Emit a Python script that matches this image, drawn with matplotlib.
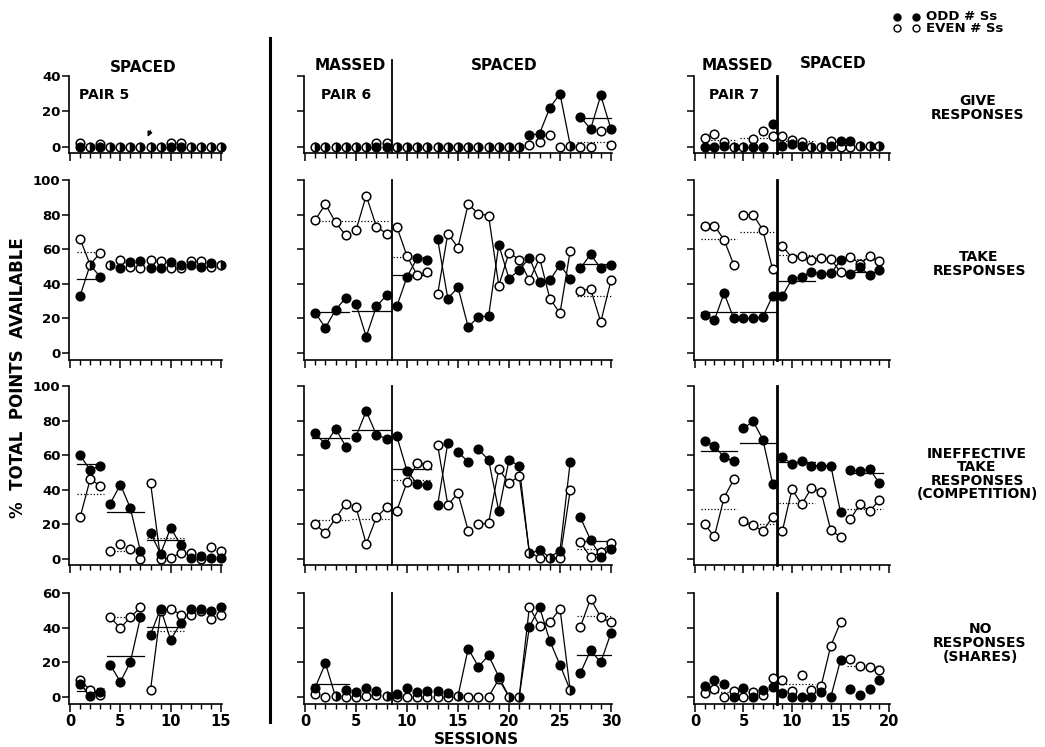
import numpy as np
import matplotlib.pyplot as plt
from matplotlib.lines import Line2D

plt.rcParams['font.family'] = ['DejaVu Sans']
plt.rcParams['font.weight'] = 'bold'

W, H = 1045, 747

# sesiones por pareja
sess_p5 = np.arange(1, 16)
sess_p6 = np.arange(1, 31)
sess_p7 = np.arange(1, 20)

# ---- PAIR 5 (todo espaciado) ----
give_p5_odd = [0, 0, 0, 0, 0, 0, 0, 0, 0, 0, 0, 0, 0, 0, 0]
give_p5_even = [2, 0, 1.5, 0, 0, 0, 0, 0, 0, 2, 2, 0, 0, 0, 0]
take_p5_odd = [33, 51, 44, 50.7, 49, 52.5, 53, 49, 49, 52.6, 51, 50.7, 50, 52, 50.7]
take_p5_even = [66, 51, 58, 50.7, 54, 50, 49, 54, 53, 49, 49, 53, 53, 49.5, 50.7]
ineff_p5_odd = [60, 51.4, 54, 32, 43, 29.4, 4.4, 15, 3, 18, 8, 0.6, 1.5, 0.6, 0.6]
ineff_p5_even = [24, 46, 42.4, 4.4, 8.6, 5.8, 0, 44, 0, 0.6, 3.5, 3.5, 0, 6.7, 4.4]
no_p5_odd = [7.5, 0.8, 2.7, 18.7, 8.7, 20.2, 46, 36, 51, 33, 42.7, 50.8, 51, 49.8, 51.7]
no_p5_even = [9.6, 4.2, 1.3, 46, 39.8, 46, 51.7, 4.2, 49.4, 51, 47.5, 47.5, 49.4, 45.2, 47.5]

# ---- PAIR 6 ----
give_p6_odd = [0, 0, 0, 0, 0, 0, 0, 0, 0, 0, 0, 0, 0, 0, 0, 0, 0, 0, 0, 0, 0,
               6.5, 7.5, 22, 30, 1, 17, 10, 29, 10]
give_p6_even = [0, 0, 0, 0, 0, 0, 2, 2, 0, 0, 0, 0, 0, 0, 0, 0, 0, 0, 0, 0, 0,
                1, 2.5, 6.6, 0, 0, 0, 0, 8.8, 1]
take_p6_odd = [23.3, 14.6, 25, 32, 28.5, 9.5, 27, 33.4, 27, 44, 55, 54,
               66, 31.5, 38, 15, 21, 21.4, 62.5, 43, 48, 55, 41, 42, 51, 43,
               49, 57, 49, 51]
take_p6_even = [77, 86, 75.5, 68, 71, 91, 73, 69, 73, 56, 45, 47,
                34, 69, 61, 86, 80.6, 79.4, 39, 58, 54, 42, 55, 31.5, 23, 59,
                36, 37, 18, 42]
ineff_p6_odd = [72.8, 66.2, 75.3, 65, 70.8, 85.5, 71.8, 69.5, 71, 51, 43.4, 42.5,
                31, 67, 62, 56, 63.3, 57.3, 27.6, 57.3, 53.7, 3, 5.2, 1, 4.8, 56,
                24, 11, 1.4, 5.8]
ineff_p6_even = [20, 15, 23.5, 32, 30, 8.7, 24, 30, 28, 44.4, 55.4, 54.6,
                 66, 31.3, 38, 16.4, 20, 20.8, 52, 43.8, 47.9, 3.9, 0.6, 0.6, 0.4, 39.6,
                 9.7, 1, 3.9, 9]
no_p6_odd = [5.5, 19.5, 0, 4, 3, 5.5, 3.5, 0.6, 2, 5, 3, 3.5, 3.5, 2.5, 0.6,
             28, 17.5, 24, 11.7, 0.2, 0.2, 40.5, 51.8, 32.4, 18.5, 4,
             13.8, 27, 20, 37]
no_p6_even = [1.6, 0.2, 1, 0.2, 0.2, 0.6, 1, 0.2, 0.2, 0.2, 0.2, 0.2, 0.2, 0.2, 0.2,
              0.2, 0.2, 0.2, 10.3, 0.2, 0.2, 52, 41, 43, 51, 4,
              40.5, 56.7, 46, 43]

# ---- PAIR 7 ----
give_p7_odd = [0, 0, 0.5, 0, 0, 0, 0, 13, 0.6, 1.5, 0.5, 0, 0, 0.5, 3, 3, 0.5, 0.5, 0.5]
give_p7_even = [5, 7.4, 2.5, 0, 0, 4.5, 9, 6, 6, 4, 2.7, 0, 0, 3, 0, 0, 0.5, 0.5, 0.5]
take_p7_odd = [22, 19, 34.6, 20, 20, 20, 21, 33, 33, 42.7, 44, 47,
               45.6, 46, 53.5, 45.6, 49.6, 45, 48]
take_p7_even = [73.7, 73.7, 65.4, 51, 80, 80, 71, 48.5, 62, 55, 56, 54,
                55, 54.4, 46.7, 55.8, 51.5, 56, 53]
ineff_p7_odd = [68, 65.5, 58.7, 56.4, 75.6, 79.5, 69, 43.6, 59, 54.8, 56.4, 53.9,
                53.9, 53.9, 27, 51.5, 50.6, 52, 43.8]
ineff_p7_even = [20, 13, 35.5, 46, 21.9, 19.6, 16, 24.4, 16, 40.3, 31.6, 41,
                 38.8, 16.5, 12.8, 22.9, 31.6, 27.7, 34]
no_p7_odd = [6.2, 10, 7.7, 0, 5.4, 0, 3.9, 5.8, 2.5, 0, 0, 0, 2.9, 0, 21.3, 4.4, 1.4, 4.4, 9.7]
no_p7_even = [2.5, 4.8, 0, 3.5, 0, 2.9, 1.4, 11, 9.7, 3.5, 13, 4.3, 6.4, 29.6, 43, 22, 17.8, 17.4, 15.5]

# bloques unidos con linea (sesion inicial, sesion final)
give_p5_links = ([], [])
take_p5_links = ([(1, 3)], [(1, 3)])
ineff_p5_links = ([(1, 3), (4, 7), (8, 11)], [(1, 3), (8, 11)])
no_p5_links = ([(1, 3), (4, 7), (8, 11)], [(1, 3), (4, 7), (8, 11)])
give_p6_links = ([(22, 26), (27, 30)], [])
take_p6_links = ([(1, 4), (5, 8), (9, 12), (13, 26), (27, 30)],
                 [(1, 4), (5, 8), (9, 12), (13, 26), (27, 30)])
ineff_p6_links = ([(1, 4), (5, 8), (9, 12), (13, 14), (15, 16), (17, 26), (27, 30)],
                  [(1, 4), (5, 8), (9, 12), (13, 16), (17, 26), (27, 30)])
no_p6_links = ([(1, 3), (15, 20), (21, 26), (27, 30)], [(18, 20), (21, 26), (27, 30)])
give_p7_links = ([], [])
take_p7_links = ([(1, 4), (5, 8), (9, 15), (16, 19)], [(1, 4), (5, 8), (9, 15), (16, 19)])
ineff_p7_links = ([(1, 4), (5, 8), (9, 15), (16, 19)], [(1, 4), (5, 8), (9, 15), (16, 19)])
no_p7_links = ([(14, 15)], [(13, 15)])

# bloques con linea de media
give_p5_means = ([], [])
take_p5_means = ([(1, 3)], [(1, 3)])
ineff_p5_means = ([(1, 3), (4, 7), (8, 11)], [(1, 3), (4, 7), (8, 11)])
no_p5_means = ([(1, 3), (4, 7), (8, 11)], [(1, 3), (4, 7), (8, 11)])
give_p6_means = ([(27, 30)], [(27, 30)])
take_p6_means = ([(1, 4), (5, 8), (9, 12), (27, 30)], [(1, 8), (9, 12), (27, 30)])
ineff_p6_means = ([(1, 4), (5, 8), (9, 12), (27, 30)], [(1, 4), (5, 8), (9, 12), (27, 30)])
no_p6_means = ([(1, 4), (27, 30)], [(27, 30)])
give_p7_means = ([], [(1, 4), (5, 8), (9, 12)])
take_p7_means = ([(1, 4), (5, 8), (9, 12), (16, 19)], [(1, 4), (5, 8), (9, 12), (16, 19)])
ineff_p7_means = ([(1, 4), (5, 8), (9, 12), (16, 19)], [(1, 4), (5, 8), (9, 12), (16, 19)])
no_p7_means = ([], [(1, 4), (9, 12), (16, 19)])

panels = [
    [(sess_p5, give_p5_odd, give_p5_even, give_p5_links, give_p5_means),
     (sess_p6, give_p6_odd, give_p6_even, give_p6_links, give_p6_means),
     (sess_p7, give_p7_odd, give_p7_even, give_p7_links, give_p7_means)],
    [(sess_p5, take_p5_odd, take_p5_even, take_p5_links, take_p5_means),
     (sess_p6, take_p6_odd, take_p6_even, take_p6_links, take_p6_means),
     (sess_p7, take_p7_odd, take_p7_even, take_p7_links, take_p7_means)],
    [(sess_p5, ineff_p5_odd, ineff_p5_even, ineff_p5_links, ineff_p5_means),
     (sess_p6, ineff_p6_odd, ineff_p6_even, ineff_p6_links, ineff_p6_means),
     (sess_p7, ineff_p7_odd, ineff_p7_even, ineff_p7_links, ineff_p7_means)],
    [(sess_p5, no_p5_odd, no_p5_even, no_p5_links, no_p5_means),
     (sess_p6, no_p6_odd, no_p6_even, no_p6_links, no_p6_means),
     (sess_p7, no_p7_odd, no_p7_even, no_p7_links, no_p7_means)],
]

axis_end = [15, 30, 20]
col_px = [(69, 222), (304, 612), (694, 890)]
row_px = [(76, 153), (180, 360), (386, 565), (593, 704)]
ylims = [(-3.5, 40), (-4, 100), (-3.5, 100), (-4, 60)]
yticks = [[0, 20, 40], list(range(0, 101, 20)), list(range(0, 101, 20)), [0, 20, 40, 60]]

MS = 6.2
MEW = 1.1


def draw(ax, x, odd, even, links, means):
    odd = np.asarray(odd, float)
    even = np.asarray(even, float)
    for serie, lk in ((odd, links[0]), (even, links[1])):
        for a, b in lk:
            ax.plot(x[a - 1:b], serie[a - 1:b], color='black', lw=0.9, zorder=2,
                    clip_on=False)
    for serie, mb, ls in ((odd, means[0], '-'), (even, means[1], (0, (1, 1.6)))):
        for a, b in mb:
            m = serie[a - 1:b].mean()
            ax.plot([a - 0.35, b + 0.35], [m, m], color='black', lw=0.9, ls=ls, zorder=1)
    close = np.abs(odd - even) < 1.3
    ax.plot(x[~close], even[~close], 'o', ms=MS, mfc='white', mec='black', mew=MEW,
            zorder=3, clip_on=False)
    ax.plot(x[~close], odd[~close], 'o', ms=MS, mfc='black', mec='black', mew=MEW,
            zorder=4, clip_on=False)
    ax.plot(x[close], (odd[close] + even[close]) / 2, 'o', ms=MS, fillstyle='right',
            mfc='black', markerfacecoloralt='white', mec='black', mew=MEW,
            zorder=5, clip_on=False)


fig = plt.figure(figsize=(W / 100, H / 100), dpi=100)
axes = {}
for r in range(4):
    for c in range(3):
        x0, x1 = col_px[c]
        y0, y1 = row_px[r]
        ax = fig.add_axes([x0 / W, 1 - y1 / H, (x1 - x0) / W, (y1 - y0) / H])
        axes[(r, c)] = ax
        x, odd, even, links, means = panels[r][c]
        draw(ax, x, odd, even, links, means)
        n = axis_end[c]
        ax.set_xlim(-0.1, n + 0.1)
        ax.set_ylim(*ylims[r])
        ax.spines[['top', 'right']].set_visible(False)
        ax.spines[['left', 'bottom']].set_linewidth(1.2)
        ax.set_xticks(range(0, n + 1, 5))
        ax.set_xticks(range(0, n + 1), minor=True)
        ax.set_yticks(yticks[r])
        ax.tick_params(axis='x', which='major', length=6, width=1.1, pad=1.5,
                       labelsize=10.5, labelbottom=(r == 3))
        ax.tick_params(axis='x', which='minor', length=3.5, width=1.0)
        ax.tick_params(axis='y', length=5, width=1.1, pad=1, labelsize=9.5,
                       labelleft=(c == 0))
        if c > 0:
            top = 1.21 if (r == 0 and c == 1) else 1.0
            ax.axvline(8.5, ymin=0, ymax=top, color='black',
                       lw=1.3 if c == 1 else 2.0, clip_on=False, zorder=1)

# flecha en PAIR 5 / GIVE
axes[(0, 0)].annotate('', xy=(7.6, 4.2), xytext=(8.1, 10.5),
                      arrowprops=dict(arrowstyle='-|>', color='black', lw=1.0,
                                      mutation_scale=7))


def ftext(x, y, s, **kw):
    fig.text(x / W, 1 - y / H, s, ha=kw.pop('ha', 'center'), va=kw.pop('va', 'center'),
             fontweight='bold', **kw)


ftext(143, 67, 'SPACED', fontsize=11)
ftext(350, 66, 'MASSED', fontsize=11)
ftext(504, 65, 'SPACED', fontsize=11)
ftext(737, 65, 'MASSED', fontsize=11)
ftext(833, 63, 'SPACED', fontsize=11)
ftext(104, 95, 'PAIR 5', fontsize=10)
ftext(346, 95, 'PAIR 6', fontsize=10)
ftext(734, 95, 'PAIR 7', fontsize=10)

ftext(978, 108, 'GIVE\nRESPONSES', fontsize=10, linespacing=1.05)
ftext(979, 264, 'TAKE\nRESPONSES', fontsize=10, linespacing=1.05)
ftext(977, 474, 'INEFFECTIVE\nTAKE\nRESPONSES\n(COMPETITION)', fontsize=10,
      linespacing=0.95)
ftext(980, 643, 'NO\nRESPONSES\n(SHARES)', fontsize=10, linespacing=1.0)

ftext(476, 739, 'SESSIONS', fontsize=11)
ftext(18, 378, '%  TOTAL  POINTS  AVAILABLE', fontsize=12, rotation=90)

# leyenda
for yy, face in ((17, 'black'), (28, 'white')):
    fig.add_artist(Line2D([897 / W, 916 / W], [1 - yy / H, 1 - yy / H], ls='none',
                          marker='o', ms=5, mfc=face, mec='black', mew=1.0,
                          transform=fig.transFigure))
ftext(926, 17, 'ODD # Ss', fontsize=9.5, ha='left')
ftext(926, 28, 'EVEN # Ss', fontsize=9.5, ha='left')

# separador vertical entre PAIR 5 y PAIR 6
fig.add_artist(Line2D([270 / W, 270 / W], [1 - 38 / H, 1 - 722 / H], color='black',
                      lw=2.2, transform=fig.transFigure))

fig.savefig('out.png', dpi=100, facecolor='white')
